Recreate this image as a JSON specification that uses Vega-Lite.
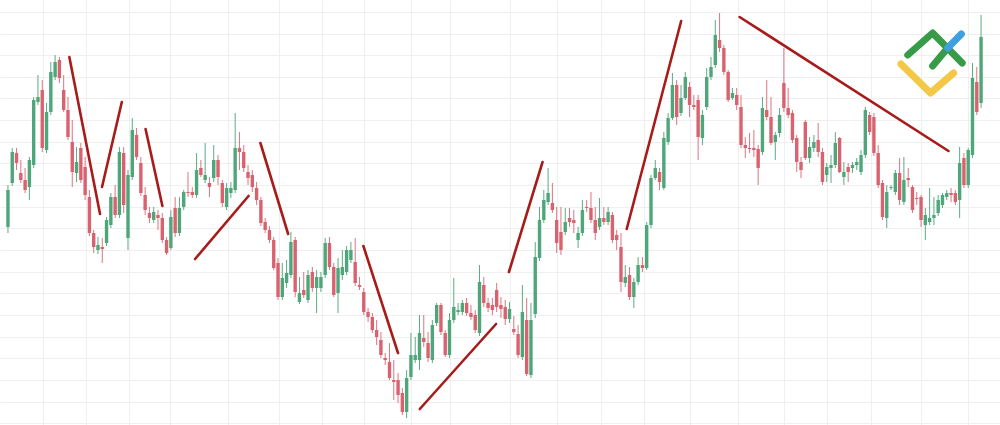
{
"$schema": "https://vega.github.io/schema/vega-lite/v6.json",
"width": 1000, "height": 425, "padding": 0,
"autosize": {"type": "fit", "contains": "padding"},
"background": "#ffffff",
"config": {"view": {"stroke": null}, "axis": {"grid": true, "gridColor": "#efefef", "gridWidth": 1, "labels": false, "ticks": false, "domain": false, "title": null}},
"datasets": {
"candles": [
{"i":0,"o":198,"h":240,"l":192,"c":235},{"i":1,"o":242,"h":277,"l":239,"c":273},{"i":2,"o":272,"h":277,"l":255,"c":262},{"i":3,"o":252,"h":265,"l":242,"c":245},{"i":4,"o":245,"h":257,"l":232,"c":235},{"i":5,"o":238,"h":268,"l":225,"c":265},{"i":6,"o":260,"h":328,"l":257,"c":325},{"i":7,"o":323,"h":350,"l":320,"c":328},{"i":8,"o":335,"h":345,"l":273,"c":277},{"i":9,"o":275,"h":322,"l":272,"c":313},
{"i":10,"o":313,"h":363,"l":310,"c":353},{"i":11,"o":348,"h":370,"l":345,"c":363},{"i":12,"o":365,"h":368,"l":342,"c":347},{"i":13,"o":335,"h":350,"l":313,"c":315},{"i":14,"o":315,"h":328,"l":285,"c":288},{"i":15,"o":283,"h":305,"l":238,"c":253},{"i":16,"o":252,"h":278,"l":243,"c":263},{"i":17,"o":277,"h":282,"l":242,"c":245},{"i":18,"o":258,"h":268,"l":225,"c":230},{"i":19,"o":228,"h":235,"l":189,"c":192},
{"i":20,"o":192,"h":195,"l":172,"c":178},{"i":21,"o":175,"h":188,"l":171,"c":180},{"i":22,"o":178,"h":187,"l":162,"c":176},{"i":23,"o":182,"h":208,"l":179,"c":205},{"i":24,"o":200,"h":232,"l":197,"c":228},{"i":25,"o":228,"h":240,"l":207,"c":210},{"i":26,"o":210,"h":278,"l":207,"c":273},{"i":27,"o":272,"h":278,"l":212,"c":220},{"i":28,"o":187,"h":255,"l":175,"c":250},{"i":29,"o":248,"h":307,"l":245,"c":295},
{"i":30,"o":290,"h":297,"l":265,"c":268},{"i":31,"o":262,"h":268,"l":229,"c":232},{"i":32,"o":230,"h":238,"l":210,"c":215},{"i":33,"o":212,"h":218,"l":202,"c":207},{"i":34,"o":205,"h":218,"l":202,"c":213},{"i":35,"o":210,"h":215,"l":195,"c":207},{"i":36,"o":207,"h":212,"l":182,"c":185},{"i":37,"o":185,"h":188,"l":170,"c":172},{"i":38,"o":177,"h":215,"l":175,"c":208},{"i":39,"o":217,"h":228,"l":188,"c":192},
{"i":40,"o":192,"h":228,"l":189,"c":217},{"i":41,"o":218,"h":235,"l":215,"c":233},{"i":42,"o":233,"h":253,"l":228,"c":232},{"i":43,"o":233,"h":238,"l":227,"c":230},{"i":44,"o":230,"h":272,"l":227,"c":255},{"i":45,"o":257,"h":265,"l":248,"c":250},{"i":46,"o":245,"h":282,"l":242,"c":250},{"i":47,"o":242,"h":248,"l":228,"c":238},{"i":48,"o":247,"h":280,"l":243,"c":265},{"i":49,"o":265,"h":270,"l":240,"c":248},
{"i":50,"o":242,"h":245,"l":218,"c":222},{"i":51,"o":218,"h":242,"l":215,"c":237},{"i":52,"o":232,"h":243,"l":227,"c":237},{"i":53,"o":235,"h":312,"l":232,"c":277},{"i":54,"o":277,"h":293,"l":255,"c":273},{"i":55,"o":273,"h":280,"l":253,"c":257},{"i":56,"o":253,"h":260,"l":240,"c":247},{"i":57,"o":250,"h":255,"l":233,"c":238},{"i":58,"o":237,"h":243,"l":220,"c":225},{"i":59,"o":225,"h":228,"l":199,"c":202},
{"i":60,"o":203,"h":207,"l":192,"c":195},{"i":61,"o":195,"h":199,"l":182,"c":185},{"i":62,"o":185,"h":188,"l":155,"c":157},{"i":63,"o":162,"h":167,"l":125,"c":128},{"i":64,"o":128,"h":162,"l":125,"c":147},{"i":65,"o":142,"h":165,"l":137,"c":152},{"i":66,"o":150,"h":193,"l":147,"c":183},{"i":67,"o":185,"h":188,"l":128,"c":133},{"i":68,"o":123,"h":148,"l":121,"c":132},{"i":69,"o":135,"h":153,"l":127,"c":130},
{"i":70,"o":125,"h":155,"l":122,"c":150},{"i":71,"o":153,"h":158,"l":133,"c":137},{"i":72,"o":137,"h":155,"l":112,"c":148},{"i":73,"o":137,"h":153,"l":133,"c":148},{"i":74,"o":150,"h":187,"l":147,"c":182},{"i":75,"o":182,"h":188,"l":155,"c":158},{"i":76,"o":158,"h":162,"l":128,"c":130},{"i":77,"o":132,"h":167,"l":112,"c":157},{"i":78,"o":150,"h":175,"l":145,"c":158},{"i":79,"o":153,"h":179,"l":150,"c":175},
{"i":80,"o":165,"h":183,"l":162,"c":175},{"i":81,"o":163,"h":187,"l":139,"c":142},{"i":82,"o":140,"h":148,"l":135,"c":138},{"i":83,"o":133,"h":137,"l":110,"c":113},{"i":84,"o":113,"h":117,"l":103,"c":108},{"i":85,"o":108,"h":112,"l":92,"c":95},{"i":86,"o":95,"h":105,"l":80,"c":88},{"i":87,"o":85,"h":93,"l":67,"c":70},{"i":88,"o":67,"h":72,"l":60,"c":65},{"i":89,"o":63,"h":82,"l":45,"c":47},
{"i":90,"o":45,"h":65,"l":25,"c":43},{"i":91,"o":45,"h":52,"l":22,"c":30},{"i":92,"o":32,"h":37,"l":10,"c":13},{"i":93,"o":13,"h":55,"l":7,"c":47},{"i":94,"o":48,"h":92,"l":45,"c":70},{"i":95,"o":65,"h":88,"l":62,"c":70},{"i":96,"o":65,"h":110,"l":55,"c":92},{"i":97,"o":87,"h":110,"l":78,"c":83},{"i":98,"o":82,"h":93,"l":63,"c":67},{"i":99,"o":65,"h":105,"l":62,"c":100},
{"i":100,"o":102,"h":122,"l":99,"c":120},{"i":101,"o":120,"h":122,"l":90,"c":93},{"i":102,"o":92,"h":95,"l":68,"c":70},{"i":103,"o":70,"h":112,"l":67,"c":105},{"i":104,"o":105,"h":147,"l":102,"c":118},{"i":105,"o":113,"h":122,"l":110,"c":115},{"i":106,"o":113,"h":125,"l":110,"c":122},{"i":107,"o":122,"h":127,"l":109,"c":112},{"i":108,"o":112,"h":120,"l":105,"c":108},{"i":109,"o":110,"h":115,"l":92,"c":95},
{"i":110,"o":92,"h":160,"l":89,"c":143},{"i":111,"o":140,"h":148,"l":118,"c":122},{"i":112,"o":122,"h":127,"l":113,"c":117},{"i":113,"o":120,"h":127,"l":110,"c":115},{"i":114,"o":135,"h":142,"l":113,"c":118},{"i":115,"o":120,"h":128,"l":107,"c":116},{"i":116,"o":118,"h":125,"l":100,"c":106},{"i":117,"o":106,"h":123,"l":102,"c":116},{"i":118,"o":96,"h":109,"l":90,"c":93},{"i":119,"o":91,"h":100,"l":67,"c":70},
{"i":120,"o":68,"h":140,"l":65,"c":113},{"i":121,"o":105,"h":127,"l":49,"c":51},{"i":122,"o":50,"h":122,"l":47,"c":105},{"i":123,"o":111,"h":183,"l":107,"c":168},{"i":124,"o":167,"h":218,"l":164,"c":205},{"i":125,"o":205,"h":235,"l":202,"c":225},{"i":126,"o":223,"h":257,"l":220,"c":232},{"i":127,"o":222,"h":242,"l":212,"c":215},{"i":128,"o":205,"h":218,"l":172,"c":182},{"i":129,"o":193,"h":218,"l":170,"c":175},
{"i":130,"o":193,"h":217,"l":190,"c":203},{"i":131,"o":207,"h":217,"l":198,"c":203},{"i":132,"o":205,"h":215,"l":192,"c":202},{"i":133,"o":185,"h":198,"l":177,"c":192},{"i":134,"o":192,"h":225,"l":189,"c":215},{"i":135,"o":218,"h":225,"l":213,"c":217},{"i":136,"o":217,"h":233,"l":202,"c":205},{"i":137,"o":205,"h":218,"l":185,"c":192},{"i":138,"o":198,"h":227,"l":195,"c":207},{"i":139,"o":207,"h":218,"l":200,"c":203},
{"i":140,"o":203,"h":218,"l":200,"c":213},{"i":141,"o":210,"h":213,"l":182,"c":185},{"i":142,"o":190,"h":195,"l":175,"c":185},{"i":143,"o":178,"h":192,"l":133,"c":143},{"i":144,"o":142,"h":160,"l":138,"c":148},{"i":145,"o":150,"h":158,"l":125,"c":128},{"i":146,"o":128,"h":147,"l":117,"c":143},{"i":147,"o":143,"h":168,"l":140,"c":160},{"i":148,"o":160,"h":168,"l":153,"c":157},{"i":149,"o":157,"h":203,"l":155,"c":200},
{"i":150,"o":200,"h":250,"l":197,"c":247},{"i":151,"o":247,"h":265,"l":245,"c":257},{"i":152,"o":253,"h":257,"l":235,"c":243},{"i":153,"o":237,"h":293,"l":235,"c":287},{"i":154,"o":283,"h":312,"l":280,"c":307},{"i":155,"o":307,"h":352,"l":305,"c":340},{"i":156,"o":340,"h":345,"l":300,"c":308},{"i":157,"o":312,"h":340,"l":309,"c":327},{"i":158,"o":327,"h":353,"l":325,"c":348},{"i":159,"o":338,"h":343,"l":308,"c":320},
{"i":160,"o":320,"h":330,"l":315,"c":318},{"i":161,"o":325,"h":330,"l":265,"c":288},{"i":162,"o":287,"h":315,"l":280,"c":310},{"i":163,"o":318,"h":357,"l":315,"c":348},{"i":164,"o":348,"h":368,"l":345,"c":358},{"i":165,"o":360,"h":405,"l":357,"c":390},{"i":166,"o":385,"h":412,"l":373,"c":377},{"i":167,"o":377,"h":380,"l":350,"c":353},{"i":168,"o":353,"h":355,"l":323,"c":325},{"i":169,"o":327,"h":337,"l":325,"c":332},
{"i":170,"o":330,"h":337,"l":315,"c":320},{"i":171,"o":318,"h":330,"l":277,"c":280},{"i":172,"o":280,"h":288,"l":267,"c":277},{"i":173,"o":277,"h":292,"l":272,"c":276},{"i":174,"o":277,"h":295,"l":268,"c":275},{"i":175,"o":276,"h":280,"l":240,"c":257},{"i":176,"o":273,"h":328,"l":270,"c":317},{"i":177,"o":315,"h":345,"l":305,"c":308},{"i":178,"o":308,"h":328,"l":280,"c":282},{"i":179,"o":283,"h":293,"l":265,"c":290},
{"i":180,"o":292,"h":317,"l":288,"c":310},{"i":181,"o":342,"h":377,"l":313,"c":317},{"i":182,"o":317,"h":337,"l":307,"c":310},{"i":183,"o":312,"h":315,"l":282,"c":285},{"i":184,"o":287,"h":290,"l":253,"c":263},{"i":185,"o":263,"h":268,"l":247,"c":255},{"i":186,"o":303,"h":305,"l":265,"c":267},{"i":187,"o":267,"h":288,"l":262,"c":278},{"i":188,"o":277,"h":290,"l":273,"c":283},{"i":189,"o":285,"h":302,"l":268,"c":273},
{"i":190,"o":273,"h":277,"l":240,"c":243},{"i":191,"o":250,"h":262,"l":243,"c":258},{"i":192,"o":257,"h":270,"l":242,"c":260},{"i":193,"o":260,"h":293,"l":257,"c":282},{"i":194,"o":287,"h":288,"l":252,"c":253},{"i":195,"o":248,"h":263,"l":240,"c":253},{"i":196,"o":258,"h":262,"l":243,"c":253},{"i":197,"o":257,"h":263,"l":252,"c":260},{"i":198,"o":260,"h":267,"l":255,"c":263},{"i":199,"o":253,"h":275,"l":250,"c":270},
{"i":200,"o":270,"h":318,"l":267,"c":315},{"i":201,"o":310,"h":313,"l":290,"c":293},{"i":202,"o":308,"h":312,"l":269,"c":272},{"i":203,"o":272,"h":280,"l":237,"c":240},{"i":204,"o":242,"h":245,"l":205,"c":208},{"i":205,"o":207,"h":240,"l":197,"c":233},{"i":206,"o":237,"h":240,"l":235,"c":238},{"i":207,"o":233,"h":255,"l":230,"c":252},{"i":208,"o":252,"h":267,"l":220,"c":225},{"i":209,"o":223,"h":268,"l":220,"c":245},
{"i":210,"o":247,"h":257,"l":238,"c":245},{"i":211,"o":238,"h":240,"l":212,"c":215},{"i":212,"o":227,"h":233,"l":220,"c":226},{"i":213,"o":228,"h":230,"l":198,"c":205},{"i":214,"o":200,"h":217,"l":185,"c":210},{"i":215,"o":203,"h":237,"l":200,"c":207},{"i":216,"o":207,"h":228,"l":200,"c":210},{"i":217,"o":212,"h":230,"l":209,"c":225},{"i":218,"o":220,"h":232,"l":217,"c":230},{"i":219,"o":228,"h":235,"l":225,"c":232},
{"i":220,"o":232,"h":237,"l":223,"c":230},{"i":221,"o":232,"h":235,"l":220,"c":223},{"i":222,"o":225,"h":278,"l":207,"c":262},{"i":223,"o":267,"h":272,"l":237,"c":240},{"i":224,"o":240,"h":277,"l":237,"c":275},{"i":225,"o":270,"h":362,"l":267,"c":347},{"i":226,"o":343,"h":358,"l":310,"c":313},{"i":227,"o":322,"h":410,"l":317,"c":388}
],
"trend": [
{"seg":1,"i":14.32,"p":368},{"seg":1,"i":21.48,"p":211},
{"seg":2,"i":21.94,"p":238},{"seg":2,"i":26.56,"p":323},
{"seg":3,"i":32.10,"p":296},{"seg":3,"i":36.03,"p":219},
{"seg":4,"i":43.65,"p":166},{"seg":4,"i":56.12,"p":229},
{"seg":5,"i":58.89,"p":282},{"seg":5,"i":65.36,"p":191},
{"seg":6,"i":82.91,"p":179},{"seg":6,"i":90.99,"p":72},
{"seg":7,"i":96.07,"p":16},{"seg":7,"i":113.86,"p":101},
{"seg":8,"i":116.86,"p":153},{"seg":8,"i":124.71,"p":263},
{"seg":9,"i":144.34,"p":196},{"seg":9,"i":157.04,"p":404},
{"seg":10,"i":170.67,"p":408},{"seg":10,"i":219.40,"p":274}
],
"logo": [
{"part":"y","k":0,"i":208.3,"p":361},{"part":"y","k":1,"i":215.2,"p":332},{"part":"y","k":2,"i":220.6,"p":352},
{"part":"g1","k":0,"i":209.9,"p":370},{"part":"g1","k":1,"i":215.7,"p":392},{"part":"g1","k":2,"i":222.6,"p":362},
{"part":"g2","k":0,"i":215.7,"p":359},{"part":"g2","k":1,"i":219.2,"p":377},
{"part":"b","k":0,"i":219.2,"p":377},{"part":"b","k":1,"i":222.4,"p":391}
]
},
"layer": [
{
"data": {"name": "candles"},
"mark": {"type": "rule", "strokeWidth": 1},
"encoding": {
"x": {"field": "i", "type": "quantitative", "scale": {"domain": [-0.69, 230.25], "nice": false, "zero": false},
"axis": {"tickCount": 40, "values": [8.08, 18.24, 28.18, 37.88, 51.27, 63.28, 73.21, 83.14, 93.99, 103.23, 117.09, 128.18, 138.34, 148.27, 159.12, 170.21, 181.06, 190.99, 201.39, 212.93, 224.02]}},
"y": {"field": "l", "type": "quantitative", "scale": {"domain": [0, 425], "nice": false, "zero": false},
"axis": {"tickCount": 40, "values": [2, 23, 45, 67, 88, 110, 132, 153, 175, 197, 218, 240, 262, 283, 305, 327, 348, 370, 391, 413]}},
"y2": {"field": "h"},
"color": {"condition": {"test": "datum.c >= datum.o", "value": "#5aac83"}, "value": "#de7480"}
}
},
{
"data": {"name": "candles"},
"mark": {"type": "bar", "size": 3.4},
"encoding": {
"x": {"field": "i", "type": "quantitative", "scale": {"domain": [-0.69, 230.25], "nice": false, "zero": false}},
"y": {"field": "o", "type": "quantitative", "scale": {"domain": [0, 425], "nice": false, "zero": false}},
"y2": {"field": "c"},
"color": {"condition": {"test": "datum.c >= datum.o", "value": "#4fa67a"}, "value": "#d9626f"}
}
},
{
"data": {"name": "trend"},
"mark": {"type": "line", "color": "#a81b1b", "strokeWidth": 2.6, "strokeCap": "round"},
"encoding": {
"x": {"field": "i", "type": "quantitative", "scale": {"domain": [-0.69, 230.25], "nice": false, "zero": false}},
"y": {"field": "p", "type": "quantitative", "scale": {"domain": [0, 425], "nice": false, "zero": false}},
"detail": {"field": "seg", "type": "nominal"}
}
},
{
"data": {"name": "logo"},
"mark": {"type": "line", "strokeWidth": 7, "strokeCap": "round", "strokeJoin": "round"},
"encoding": {
"x": {"field": "i", "type": "quantitative", "scale": {"domain": [-0.69, 230.25], "nice": false, "zero": false}},
"y": {"field": "p", "type": "quantitative", "scale": {"domain": [0, 425], "nice": false, "zero": false}},
"detail": {"field": "part", "type": "nominal"},
"order": {"field": "k", "type": "quantitative"},
"color": {"field": "part", "type": "nominal", "scale": {"domain": ["y", "g1", "g2", "b"], "range": ["#f3c846", "#389b47", "#389b47", "#3f9fe0"]}, "legend": null}
}
}
]
}
